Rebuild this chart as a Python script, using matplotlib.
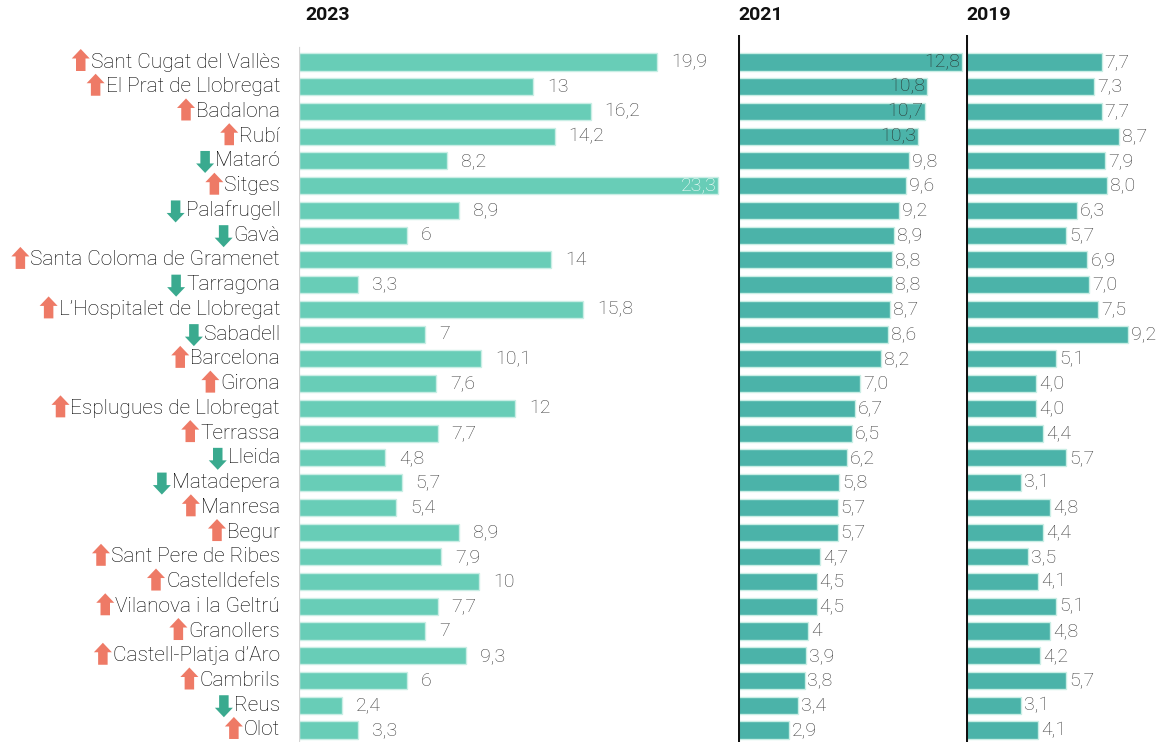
import matplotlib
matplotlib.use("Agg")
import matplotlib.pyplot as plt
from matplotlib.patches import Polygon
from matplotlib.transforms import IdentityTransform

cities = ["Sant Cugat del Vallès", "El Prat de Llobregat", "Badalona", "Rubí", "Mataró",
          "Sitges", "Palafrugell", "Gavà", "Santa Coloma de Gramenet", "Tarragona",
          "L\u2019Hospitalet de Llobregat", "Sabadell", "Barcelona", "Girona",
          "Esplugues de Llobregat", "Terrassa", "Lleida", "Matadepera", "Manresa", "Begur",
          "Sant Pere de Ribes", "Castelldefels", "Vilanova i la Geltrú", "Granollers",
          "Castell-Platja d\u2019Aro", "Cambrils", "Reus", "Olot"]
trend = ["up", "up", "up", "up", "down", "up", "down", "down", "up", "down",
         "up", "down", "up", "up", "up", "up", "down", "down", "up", "up",
         "up", "up", "up", "up", "up", "up", "down", "up"]
labels_2023 = ["19,9", "13", "16,2", "14,2", "8,2", "23,3", "8,9", "6", "14", "3,3",
               "15,8", "7", "10,1", "7,6", "12", "7,7", "4,8", "5,7", "5,4", "8,9",
               "7,9", "10", "7,7", "7", "9,3", "6", "2,4", "3,3"]
labels_2021 = ["12,8", "10,8", "10,7", "10,3", "9,8", "9,6", "9,2", "8,9", "8,8", "8,8",
               "8,7", "8,6", "8,2", "7,0", "6,7", "6,5", "6,2", "5,8", "5,7", "5,7",
               "4,7", "4,5", "4,5", "4", "3,9", "3,8", "3,4", "2,9"]
labels_2019 = ["7,7", "7,3", "7,7", "8,7", "7,9", "8,0", "6,3", "5,7", "6,9", "7,0",
               "7,5", "9,2", "5,1", "4,0", "4,0", "4,4", "5,7", "3,1", "4,8", "4,4",
               "3,5", "4,1", "5,1", "4,8", "4,2", "5,7", "3,1", "4,1"]
years = ["2023", "2021", "2019"]

def to_num(lst):
    return [float(s.replace(",", ".")) for s in lst]

v23, v21, v19 = to_num(labels_2023), to_num(labels_2021), to_num(labels_2019)

W, H = 1157, 742
FONT = "Roboto"
plt.rcParams["font.family"] = [FONT, "DejaVu Sans"]

fig = plt.figure(figsize=(W / 100, H / 100), dpi=100)
fig.patch.set_facecolor("white")

top_px = 35
ylim = ((742 - 62) / 24.74, (top_px - 62) / 24.74)
ax_h = (H - top_px) / H

def make_ax(left_px, right_px, scale):
    ax = fig.add_axes([left_px / W, 0, (right_px - left_px) / W, ax_h])
    ax.set_xlim(0, (right_px - left_px) / scale)
    ax.set_ylim(*ylim)
    ax.set_xticks([]); ax.set_yticks([])
    for s in ax.spines.values():
        s.set_visible(False)
    ax.patch.set_alpha(0)
    return ax

ax1 = make_ax(299, 720, 18.0)
ax2 = make_ax(738, 964, 17.5)
ax3 = make_ax(966, 1157, 17.6)

light = "#68CDB7"
dark = "#4BB3A9"
edge = "#c9eee5"
txtc = "#3d3d3d"
n = len(cities)
ys = list(range(n))

ax1.barh(ys, v23, height=0.69, color=light, edgecolor=edge, linewidth=1.0, zorder=2)
ax2.barh(ys, v21, height=0.69, color=dark, edgecolor=edge, linewidth=1.0, zorder=2)
ax3.barh(ys, v19, height=0.69, color=dark, edgecolor=edge, linewidth=1.0, zorder=2)

ax1.axvline(0, ymin=0, ymax=(H - 48) / (H - top_px), color="#d4d4d4", lw=1.6, zorder=3)
for ax in (ax2, ax3):
    ax.axvline(0, ymin=0, ymax=1, color="#111111", lw=2.2, zorder=3)

vfs = 14
def value_labels(ax, vals, labs, off, inside_thr, inside_col):
    for y, v, lab in zip(ys, vals, labs):
        if v >= inside_thr:
            ax.annotate(lab, xy=(v, y), xytext=(-2, 0), textcoords="offset pixels",
                        ha="right", va="center", fontsize=vfs, color=inside_col,
                        fontweight="light", zorder=4)
        else:
            ax.annotate(lab, xy=(v, y), xytext=(off, 0), textcoords="offset pixels",
                        ha="left", va="center", fontsize=vfs, color=txtc,
                        fontweight="light", zorder=4)

value_labels(ax1, v23, labels_2023, 14, 23, "white")
value_labels(ax2, v21, labels_2021, 3, 10, "#2a3532")
value_labels(ax3, v19, labels_2019, 3, 99, txtc)

# city names
name_texts = []
for y, c in zip(ys, cities):
    t = ax1.annotate(c, xy=(0, y), xytext=(-19, 0), textcoords="offset pixels",
                     ha="right", va="center", fontsize=15, color="#000000",
                     fontweight="light", annotation_clip=False)
    name_texts.append(t)

# year titles
for x_px, yr in zip([305, 738, 966], years):
    fig.text(x_px / W, 1 - 15 / H, yr, ha="left", va="center", fontsize=14,
             fontweight="bold", color="#111111")

# arrows next to names
fig.canvas.draw()
r = fig.canvas.get_renderer()
up_c, down_c = "#EE7A66", "#3AAA8F"
aw, ah, hh, sw = 18, 22, 9.5, 9.5
for t, tr, y in zip(name_texts, trend, ys):
    bb = t.get_window_extent(r)
    xr = bb.x0 - 1
    xc = xr - aw / 2
    ypx = ax1.transData.transform((0, y))[1]
    if tr == "up":
        yc = ypx + 2
        top, bot = yc + ah / 2, yc - ah / 2
        pts = [(xc, top), (xc + aw / 2, top - hh), (xc + sw / 2, top - hh),
               (xc + sw / 2, bot), (xc - sw / 2, bot), (xc - sw / 2, top - hh),
               (xc - aw / 2, top - hh)]
        col = up_c
    else:
        yc = ypx - 1
        top, bot = yc + ah / 2, yc - ah / 2
        pts = [(xc, bot), (xc + aw / 2, bot + hh), (xc + sw / 2, bot + hh),
               (xc + sw / 2, top), (xc - sw / 2, top), (xc - sw / 2, bot + hh),
               (xc - aw / 2, bot + hh)]
        col = down_c
    fig.add_artist(Polygon(pts, closed=True, transform=IdentityTransform(),
                           facecolor=col, edgecolor="none", zorder=5))

fig.savefig("out.png", dpi=100, facecolor="white")
